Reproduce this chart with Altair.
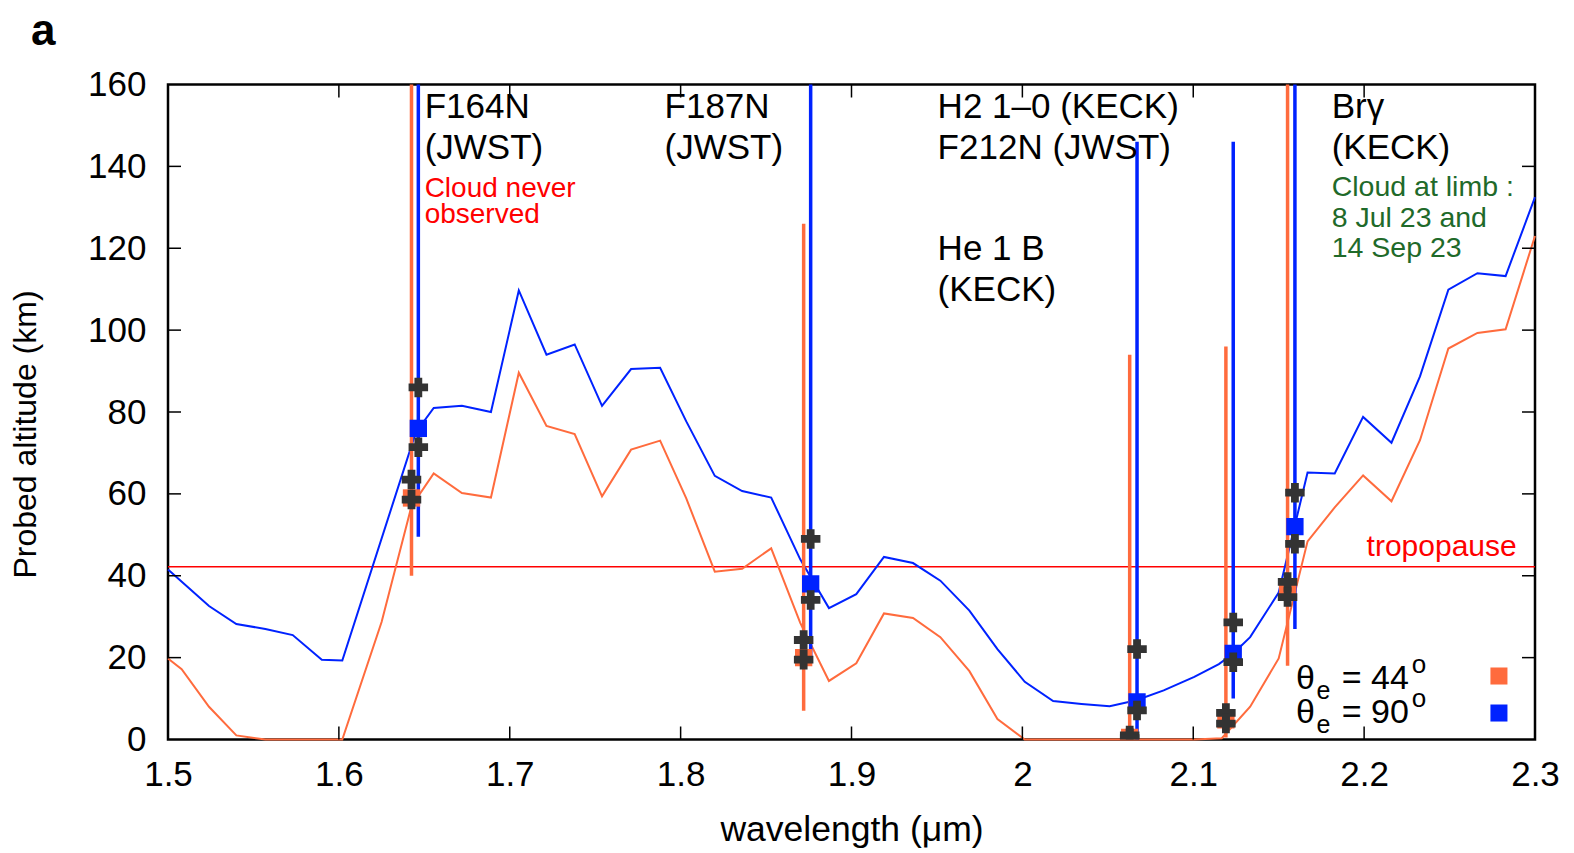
import altair as alt
import pandas as pd

FONT = "Liberation Sans"
ORANGE = "#ff6b3d"
BLUE = "#0022ff"
CROSS = "#333333"

# ---------------- data ----------------
# theta_e = 90 deg (blue) probed altitude curve
wl_90 = [1.500, 1.524, 1.540, 1.557, 1.573, 1.590, 1.602, 1.645, 1.6555, 1.672, 1.689,
         1.7053, 1.7215, 1.738, 1.754, 1.771, 1.788, 1.8033, 1.820, 1.836, 1.853, 1.870,
         1.8868, 1.9028, 1.919, 1.936, 1.952, 1.969, 1.9854, 2.0014, 2.018, 2.0346,
         2.0511, 2.0667, 2.0827, 2.1006, 2.115, 2.1234, 2.1333, 2.150, 2.1669, 2.1828,
         2.1994, 2.216, 2.2327, 2.2493, 2.2663, 2.2828, 2.300]
alt_90 = [41.5, 32.6, 28.2, 27.0, 25.5, 19.5, 19.3, 75.0, 81.0, 81.5, 80.0,
          109.7, 94.0, 96.5, 81.5, 90.5, 90.8, 77.7, 64.4, 60.7, 59.1, 44.0,
          32.1, 35.5, 44.6, 43.1, 38.8, 31.5, 22.1, 14.1, 9.4, 8.7,
          8.1, 9.6, 12.0, 15.3, 18.4, 21.0, 25.0, 35.9, 65.2, 65.0,
          78.8, 72.5, 88.7, 109.9, 113.9, 113.2, 132.5]

# theta_e = 44 deg (orange) probed altitude curve
wl_44 = [1.500, 1.508, 1.524, 1.540, 1.557, 1.573, 1.590, 1.602, 1.625, 1.6425, 1.6555,
         1.672, 1.689, 1.7053, 1.7215, 1.738, 1.754, 1.771, 1.788, 1.8033, 1.820, 1.836,
         1.853, 1.870, 1.8868, 1.9028, 1.919, 1.936, 1.952, 1.969, 1.9854, 2.0014, 2.018,
         2.0346, 2.0511, 2.0667, 2.0827, 2.1006, 2.1167, 2.1333, 2.150, 2.1669, 2.1828,
         2.1994, 2.216, 2.2327, 2.2493, 2.2663, 2.2828, 2.300]
alt_44 = [19.8, 17.2, 8.0, 1.0, 0.0, 0.0, 0.0, 0.0, 28.7, 57.0, 65.0,
          60.2, 59.1, 89.6, 76.6, 74.6, 59.4, 70.8, 73.0, 58.9, 41.0, 41.7,
          46.7, 28.5, 14.3, 18.6, 30.8, 29.7, 25.0, 16.7, 5.0, 0.0, 0.0,
          0.0, 0.0, 0.0, 0.0, 0.0, 0.3, 8.0, 19.8, 48.4, 56.7,
          64.5, 58.2, 73.1, 95.5, 99.3, 100.2, 123.0]

# filter measurements, theta_e = 44 deg
bar44_x = [1.6425, 1.8720, 2.0628, 2.1191, 2.1552]
bar44_lo = [40.0, 7.0, 0.0, 0.5, 18.0]
bar44_hi = [160.0, 126.0, 94.0, 96.0, 160.0]
sq44 = [59.0, 20.0, 0.5, 4.8, 37.0]
cross44_hi = [63.5, 24.3, 1.0, 6.5, 38.5]
cross44_lo = [58.6, 19.5, 0.3, 3.9, 34.8]

# filter measurements, theta_e = 90 deg
bar90_x = [1.6465, 1.8761, 2.0671, 2.1234, 2.1595]
bar90_lo = [49.5, 20.0, 0.0, 10.0, 27.0]
bar90_hi = [160.0, 160.0, 146.0, 146.0, 160.0]
sq90 = [76.0, 38.0, 9.2, 21.0, 52.0]
cross90_hi = [86.0, 49.0, 22.1, 28.6, 60.3]
cross90_lo = [71.4, 34.1, 7.1, 18.9, 47.8]

tropopause = [42.2]

x_ticks = [1.5, 1.6, 1.7, 1.8, 1.9, 2.0, 2.1, 2.2, 2.3]
y_ticks = [0, 20, 40, 60, 80, 100, 120, 140, 160]

# annotation texts (positions in data units)
main_labels = ["F164N\n(JWST)", "F187N\n(JWST)", "H2 1\u20130 (KECK)\nF212N (JWST)",
               "He 1 B\n(KECK)", "Br\u03b3\n(KECK)"]
main_x = [1.6502, 1.7906, 1.9504, 1.9504, 2.1810]
main_y = [151.9, 151.9, 151.9, 117.2, 151.9]

red_note = ["Cloud never\nobserved"]
red_x = [1.6502]
red_y = [132.6]

green_note = ["Cloud at limb :\n8 Jul 23 and\n14 Sep 23"]
green_x = [2.1810]
green_y = [132.7]

trop_label = ["tropopause"]
trop_x = [2.2893]
trop_y = [44.8]

leg_theta_x = [2.1601, 2.1601]
leg_e_x = [2.1721, 2.1721]
leg_eq_x = [2.1869, 2.1869]
leg_o_x = [2.2278, 2.2278]
leg_sq_x = [2.2789, 2.2789]
leg_main_y = [12.33, 4.03]
leg_e_y = [9.80, 1.50]
leg_o_y = [16.24, 7.94]
leg_sq_y = [15.51, 6.47]
leg_eq = ["= 44", "= 90"]
leg_colors = [ORANGE, BLUE]

W, H = 1367, 655

# ---------------- scales / axes ----------------
xscale = alt.Scale(domain=[1.5, 2.3], nice=False, zero=False)
yscale = alt.Scale(domain=[0, 160], nice=False, zero=False)

xaxis = alt.Axis(values=x_ticks, format="~g", ticks=False, domain=False, grid=False,
                 labelFontSize=35, labelFont=FONT, labelColor="black", labelPadding=18,
                 labelFlush=False, labelOverlap=False, labelBound=False,
                 title="wavelength (\u03bcm)", titleFontSize=35.5, titleFont=FONT,
                 titleFontWeight="normal", titleColor="black", titleY=101,
                 titleBaseline="alphabetic")
yaxis = alt.Axis(values=y_ticks, ticks=False, domain=False, grid=False,
                 labelFontSize=35, labelFont=FONT, labelColor="black", labelPadding=22,
                 labelFlush=False, labelOverlap=False, labelBound=False,
                 title="Probed altitude (km)", titleFontSize=32, titleFont=FONT,
                 titleFontWeight="normal", titleColor="black", titleX=-133, titleY=349.5,
                 titleBaseline="alphabetic")


def X(field="x"):
    return alt.X(f"{field}:Q", scale=xscale, axis=xaxis, title="wavelength (\u03bcm)")


def Y(field="y"):
    return alt.Y(f"{field}:Q", scale=yscale, axis=yaxis, title="Probed altitude (km)")


# ---------------- data frames ----------------
df90 = pd.DataFrame({"x": wl_90, "y": alt_90})
df44 = pd.DataFrame({"x": wl_44, "y": alt_44})
dbar44 = pd.DataFrame({"x": bar44_x, "y": bar44_lo, "y2": bar44_hi, "s": sq44})
dbar90 = pd.DataFrame({"x": bar90_x, "y": bar90_lo, "y2": bar90_hi, "s": sq90})
dcross = pd.DataFrame({
    "x": bar44_x + bar44_x + bar90_x + bar90_x,
    "y": cross44_hi + cross44_lo + cross90_hi + cross90_lo,
})
dtrop = pd.DataFrame({"y": tropopause})
dxt = pd.DataFrame({"x": x_ticks[1:-1]})
dyt = pd.DataFrame({"y": y_ticks[1:-1]})

# ---------------- layers ----------------
trop_rule = alt.Chart(dtrop).mark_rule(color="#ff0000", strokeWidth=1.6).encode(
    y=Y(), x=alt.value(0), x2=alt.value(W))

line44 = alt.Chart(df44).mark_line(color=ORANGE, strokeWidth=2).encode(x=X(), y=Y())
line90 = alt.Chart(df90).mark_line(color=BLUE, strokeWidth=2).encode(x=X(), y=Y())

err44 = alt.Chart(dbar44).mark_rule(color=ORANGE, strokeWidth=3.5).encode(
    x=X(), y=Y(), y2="y2:Q")
err90 = alt.Chart(dbar90).mark_rule(color=BLUE, strokeWidth=3.5).encode(
    x=X(), y=Y(), y2="y2:Q")

sqr44 = alt.Chart(dbar44).mark_point(shape="square", filled=True, size=300, opacity=1,
                                     color=ORANGE, clip=True).encode(x=X(), y=Y("s"))
sqr90 = alt.Chart(dbar90).mark_point(shape="square", filled=True, size=300, opacity=1,
                                     color=BLUE, clip=True).encode(x=X(), y=Y("s"))

crosses = alt.Chart(dcross).mark_point(shape="cross", filled=True, size=380, opacity=1,
                                       color=CROSS, clip=True).encode(x=X(), y=Y())

# inward ticks on all four sides
tick_style = dict(color="black", strokeWidth=1.5)
xt_bottom = alt.Chart(dxt).mark_rule(**tick_style).encode(
    x=X(), y=alt.value(H), y2=alt.value(H - 13))
xt_top = alt.Chart(dxt).mark_rule(**tick_style).encode(
    x=X(), y=alt.value(0), y2=alt.value(13))
yt_left = alt.Chart(dyt).mark_rule(**tick_style).encode(
    y=Y(), x=alt.value(0), x2=alt.value(13))
yt_right = alt.Chart(dyt).mark_rule(**tick_style).encode(
    y=Y(), x=alt.value(W), x2=alt.value(W - 13))

# annotation texts
t_main = alt.Chart(pd.DataFrame({"x": main_x, "y": main_y, "t": main_labels})).mark_text(
    align="left", baseline="alphabetic", lineBreak="\n", lineHeight=41, font=FONT,
    fontSize=35, color="black").encode(x=X(), y=Y(), text="t:N")
t_red = alt.Chart(pd.DataFrame({"x": red_x, "y": red_y, "t": red_note})).mark_text(
    align="left", baseline="alphabetic", lineBreak="\n", lineHeight=26, font=FONT,
    fontSize=28, color="#ff0000").encode(x=X(), y=Y(), text="t:N")
t_green = alt.Chart(pd.DataFrame({"x": green_x, "y": green_y, "t": green_note})).mark_text(
    align="left", baseline="alphabetic", lineBreak="\n", lineHeight=30.5, font=FONT,
    fontSize=28.5, color="#1f6a2a").encode(x=X(), y=Y(), text="t:N")
t_trop = alt.Chart(pd.DataFrame({"x": trop_x, "y": trop_y, "t": trop_label})).mark_text(
    align="right", baseline="alphabetic", font=FONT, fontSize=30,
    color="#ff0000").encode(x=X(), y=Y(), text="t:N")

# legend built from text + squares
dleg = pd.DataFrame({
    "tx": leg_theta_x, "ex": leg_e_x, "qx": leg_eq_x, "ox": leg_o_x, "sx": leg_sq_x,
    "my": leg_main_y, "ey": leg_e_y, "oy": leg_o_y, "sy": leg_sq_y,
    "eq": leg_eq, "c": leg_colors, "th": ["\u03b8", "\u03b8"], "e": ["e", "e"], "o": ["o", "o"],
})
leg_theta = alt.Chart(dleg).mark_text(align="left", baseline="alphabetic", font=FONT,
                                      fontSize=34, color="black").encode(
    x=X("tx"), y=Y("my"), text="th:N")
leg_e = alt.Chart(dleg).mark_text(align="left", baseline="alphabetic", font=FONT,
                                  fontSize=25, color="black").encode(
    x=X("ex"), y=Y("ey"), text="e:N")
leg_eqt = alt.Chart(dleg).mark_text(align="left", baseline="alphabetic", font=FONT,
                                    fontSize=34, color="black").encode(
    x=X("qx"), y=Y("my"), text="eq:N")
leg_o = alt.Chart(dleg).mark_text(align="left", baseline="alphabetic", font=FONT,
                                  fontSize=26, color="black").encode(
    x=X("ox"), y=Y("oy"), text="o:N")
leg_sq = alt.Chart(dleg).mark_point(shape="square", filled=True, size=290, opacity=1).encode(
    x=X("sx"), y=Y("sy"), color=alt.Color("c:N", scale=None))

panel = alt.Chart(pd.DataFrame({"t": ["a"]})).mark_text(
    align="left", baseline="alphabetic", font=FONT, fontSize=44, fontWeight="bold",
    color="black").encode(x=alt.value(-137), y=alt.value(-40), text="t:N")

chart = alt.layer(
    trop_rule, line44, line90, err44, err90, sqr44, sqr90, crosses,
    xt_bottom, xt_top, yt_left, yt_right,
    t_main, t_red, t_green, t_trop,
    leg_theta, leg_e, leg_eqt, leg_o, leg_sq, panel,
).properties(
    width=W, height=H,
    autosize=alt.AutoSizeParams(type="none"),
    padding={"left": 168, "top": 84.5, "right": 39, "bottom": 113},
    background="white",
).configure_view(stroke="black", strokeWidth=2.5)

chart.save("out.html", embed_options={"renderer": "svg", "actions": False})
